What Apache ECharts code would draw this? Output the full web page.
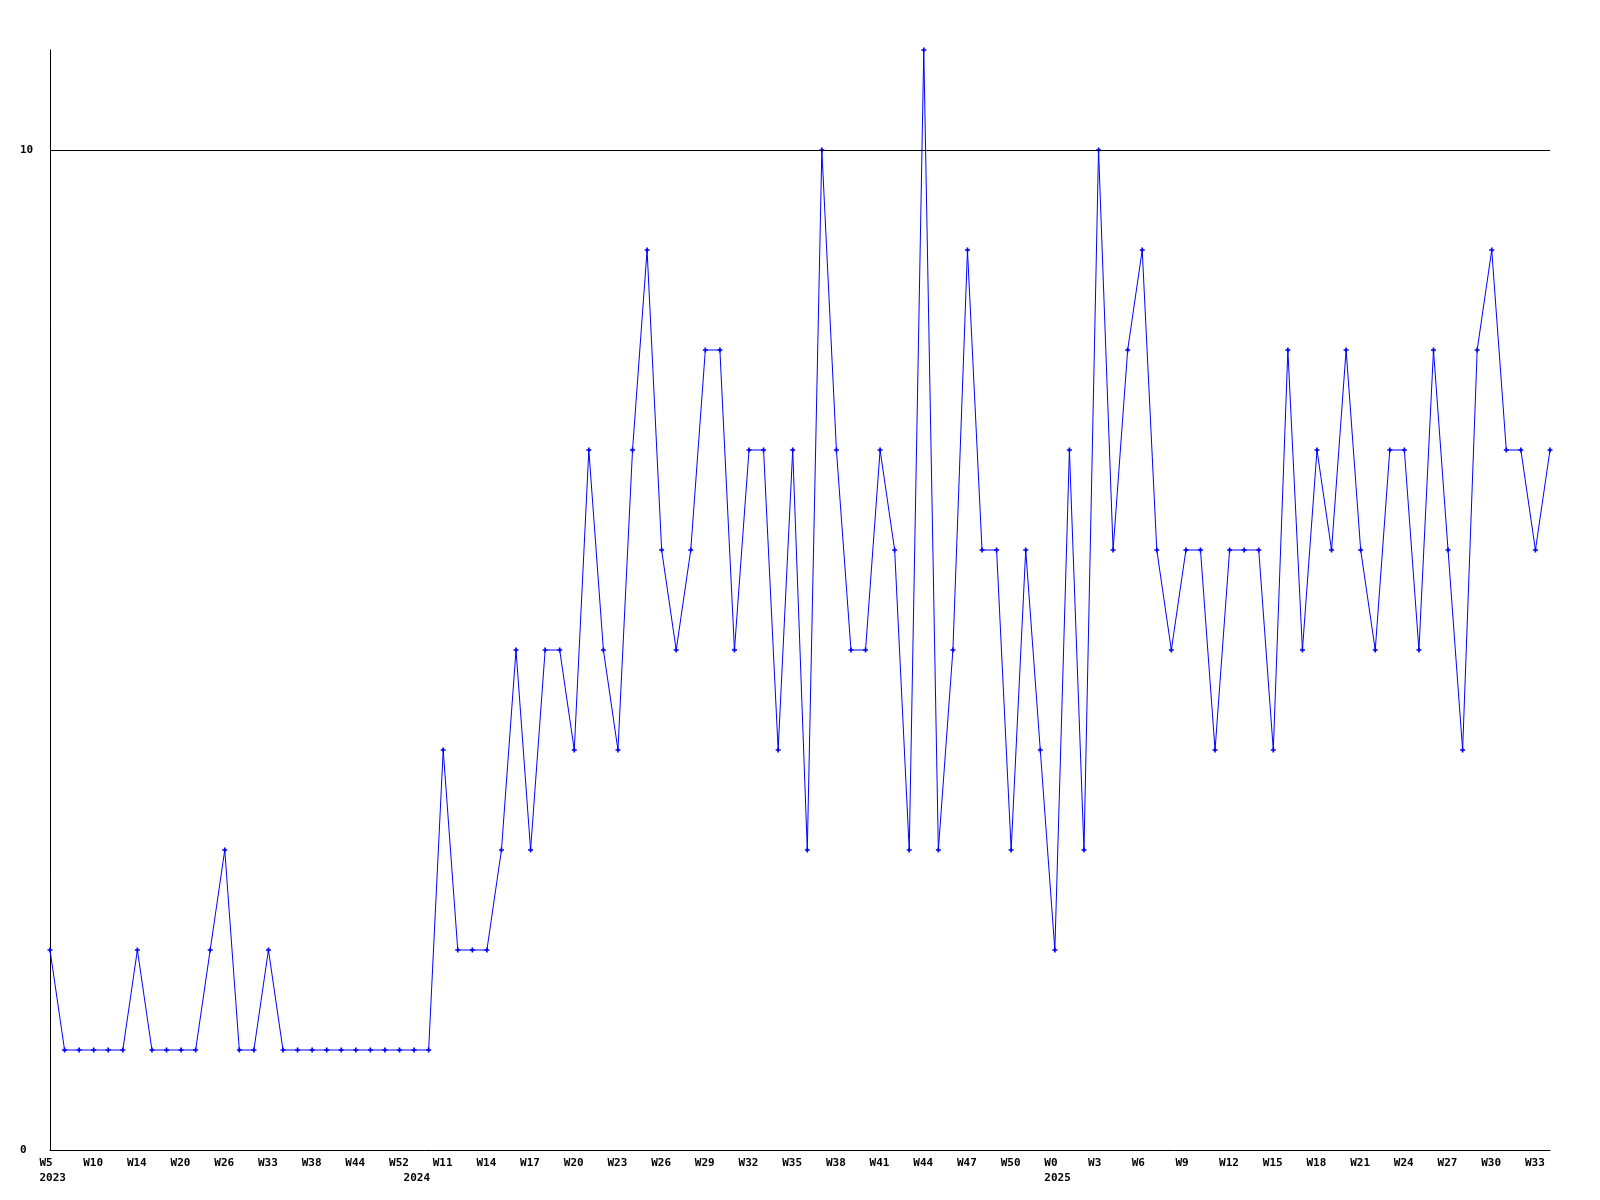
<!DOCTYPE html>
<html>
<head>
<meta charset="utf-8">
<script src="https://cdn.jsdelivr.net/npm/echarts@6/dist/echarts.min.js"></script>
<style>
  html, body { margin: 0; padding: 0; background: #fff; }
  #chart { width: 1600px; height: 1200px; }
</style>
</head>
<body>
<div id="chart"></div>
<script>
// Week labels per year (every third one is printed on the axis)
const weeks2023 = ['W5','W6','W8','W10','W11','W13','W14','W16','W18','W20','W22','W24','W26','W28','W31','W33','W35','W36','W38','W40','W42','W44','W47','W50','W52'];
const weeks2024 = ['W9','W10','W11','W12','W13','W14','W15','W16','W17','W18','W19','W20','W21','W22','W23','W24','W25','W26','W27','W28','W29','W30','W31','W32','W33','W34','W35','W36','W37','W38','W39','W40','W41','W42','W43','W44','W45','W46','W47','W48','W49','W50','W51','W52'];
const weeks2025 = ['W0','W1','W2','W3','W4','W5','W6','W7','W8','W9','W10','W11','W12','W13','W14','W15','W16','W17','W18','W19','W20','W21','W22','W23','W24','W25','W26','W27','W28','W29','W30','W31','W32','W33','W34'];

const values2023 = [2,1,1,1,1,1,2,1,1,1,1,2,3,1,1,2,1,1,1,1,1,1,1,1,1];
const values2024 = [1,1,4,2,2,2,3,5,3,5,5,4,7,5,4,7,9,6,5,6,8,8,5,7,7,4,7,3,10,7,5,5,7,6,3,11,3,5,9,6,6,3,6,4];
const values2025 = [2,7,3,10,6,8,9,6,5,6,6,4,6,6,6,4,8,5,7,6,8,6,5,7,7,5,8,6,4,8,9,7,7,6,7];

const yTickLabels = [0, 10];

const categories = []
  .concat(weeks2023.map(w => '2023-' + w))
  .concat(weeks2024.map(w => '2024-' + w))
  .concat(weeks2025.map(w => '2025-' + w));
const values = [].concat(values2023, values2024, values2025);

const FONT = '"DejaVu Sans Mono", "Liberation Mono", monospace';

const chart = echarts.init(document.getElementById('chart'), null, { renderer: 'canvas' });
chart.setOption({
  animation: false,
  backgroundColor: '#ffffff',
  grid: { left: 50, right: 50, top: 50, bottom: 50, containLabel: false },
  xAxis: [
    {
      type: 'category',
      data: categories,
      boundaryGap: false,
      position: 'bottom',
      axisLine: { show: true, lineStyle: { color: '#000', width: 1 } },
      axisTick: { show: false },
      splitLine: { show: false },
      axisLabel: {
        interval: 2,
        margin: 8,
        align: 'center',
        formatter: v => '{a|' + v.split('-')[1] + '}',
        rich: { a: { width: 21, align: 'left', fontFamily: FONT, fontSize: 11, fontWeight: 'bold', color: '#000' } }
      }
    },
    {
      type: 'category',
      data: categories,
      boundaryGap: false,
      position: 'bottom',
      axisLine: { show: false },
      axisTick: { show: false },
      splitLine: { show: false },
      axisLabel: {
        margin: 23,
        align: 'center',
        interval: (idx, v) => idx === 0 || categories[idx - 1].slice(0, 4) !== v.slice(0, 4),
        formatter: v => '{a|' + v.slice(0, 4) + '}',
        rich: { a: { width: 21, align: 'left', fontFamily: FONT, fontSize: 11, fontWeight: 'bold', color: '#000' } }
      }
    }
  ],
  yAxis: {
    type: 'value',
    min: 0,
    max: 11,
    interval: 10,
    axisLine: { show: true, lineStyle: { color: '#000', width: 1 } },
    axisTick: { show: false },
    splitLine: { show: false },
    axisLabel: {
      margin: 30,
      align: 'left',
      fontFamily: FONT,
      fontSize: 11,
      fontWeight: 'bold',
      color: '#000',
      formatter: v => yTickLabels.indexOf(v) >= 0 ? String(v) : ''
    }
  },
  series: [{
    type: 'line',
    data: values,
    xAxisIndex: 0,
    symbol: 'path://M2,0H4V2H6V4H4V6H2V4H0V2H2Z',
    symbolSize: 5,
    showAllSymbol: true,
    itemStyle: { color: '#0000ff' },
    lineStyle: { color: '#0000ff', width: 1 },
    markLine: {
      silent: true,
      symbol: 'none',
      label: { show: false },
      lineStyle: { color: '#000', width: 1, type: 'solid' },
      data: [{ yAxis: 10 }]
    }
  }]
});
</script>
</body>
</html>
